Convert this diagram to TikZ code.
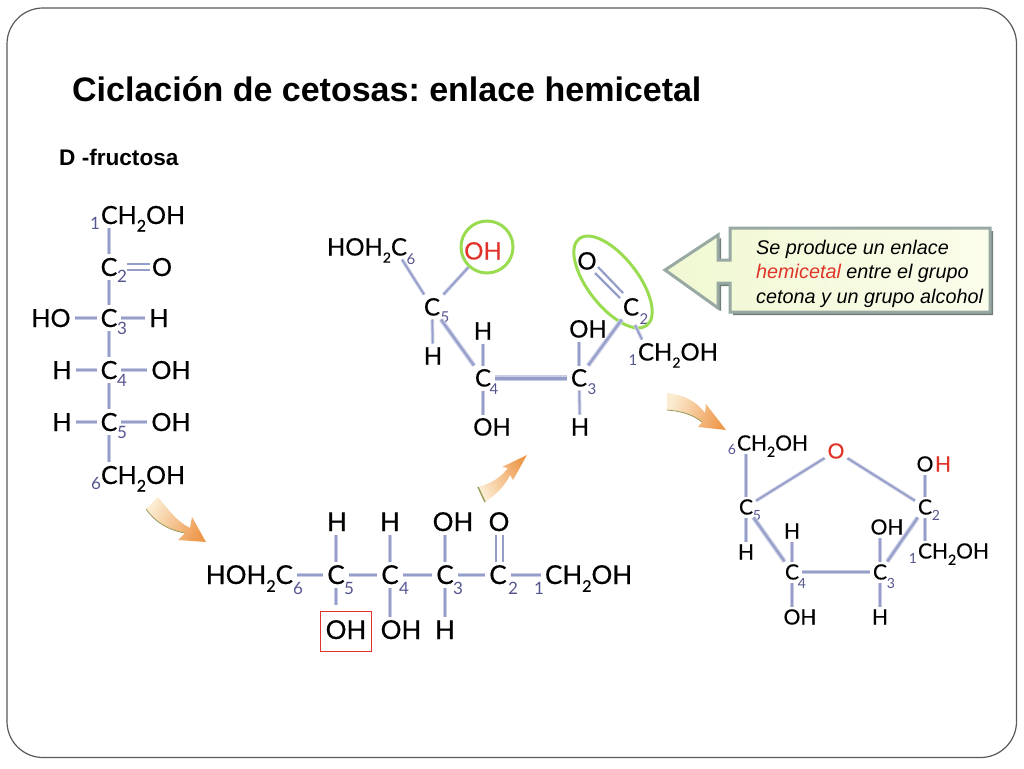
\documentclass[tikz,border=0pt]{standalone}
\usepackage{fontspec}
\setmainfont{Liberation Sans}
\newfontfamily\chemf{Lato}[FakeBold=0.5]
\newfontfamily\numf{Lato}
\usetikzlibrary{shapes.geometric,calc}
\definecolor{bondl}{HTML}{C8CCE5}
\definecolor{bondd}{HTML}{959DC9}
\definecolor{numc}{HTML}{55558F}
\definecolor{greenc}{HTML}{9ADC50}
\definecolor{redt}{HTML}{E0342A}
\definecolor{framec}{HTML}{5A5A5A}
\definecolor{calloutb}{HTML}{98A8A2}
\definecolor{calloutf}{HTML}{F0F8D2}
\definecolor{calloutg}{HTML}{FBFDEB}
\definecolor{arrc}{HTML}{EE9A4E}
\definecolor{arrl}{HTML}{FBEBD0}
\definecolor{olive}{HTML}{9A9A5A}
\tikzset{
  atom/.style={inner sep=0pt,outer sep=4pt,text height=18pt,text depth=0pt,font=\chemf\fontsize{25}{25}\selectfont,text=black},
  atomb/.style={atom,font=\chemf\fontsize{26}{26}\selectfont},
  atomc/.style={atom,text height=17pt,font=\chemf\fontsize{24}{24}\selectfont},
  atoms/.style={atom,outer sep=3pt,text height=15pt,font=\chemf\fontsize{21}{21}\selectfont},
  numl/.style={inner sep=0pt,text=numc,font=\numf\fontsize{17}{17}\selectfont},
  numm/.style={numl,font=\numf\fontsize{15}{15}\selectfont},
  nums/.style={numl,font=\numf\fontsize{14}{14}\selectfont},
  bondt/.style={draw=bondl,line width=3.5pt,postaction={draw=bondd,line width=1.6pt}},
  bondm/.style={draw=bondl,line width=4.5pt,postaction={draw=bondd,line width=2pt}},
  bondk/.style={draw=bondl,line width=6pt,postaction={draw=bondd,line width=3pt}},
  bondd2/.style={draw=bondd,line width=2.2pt},
  orange arrow/.style={left color=arrl,right color=arrc},
  greenring/.style={draw=greenc,line width=3pt,inner sep=0pt,fill=none},
}
\newcommand{\subtwo}[1]{\raisebox{-.3em}{\fontsize{#1}{#1}\selectfont 2}}
\newcommand{\chtwo}{CH\subtwo{16}OH}
\newcommand{\chtwos}{CH\subtwo{14}OH}
\frenchspacing
\begin{document}
\begin{tikzpicture}[x=1pt,y=-1pt]
\useasboundingbox (0,0) rectangle (1024,768);
\fill[white] (0,0) rectangle (1024,768);
\draw[draw=framec,line width=1.2pt,rounded corners=36pt] (7,8) rectangle (1016.5,757.5);
\node[anchor=west,inner sep=0pt,font=\bfseries\fontsize{34}{34}\selectfont] (title) at (72,89) {Ciclación de cetosas: enlace hemicetal};
\node[anchor=west,inner sep=0pt,font=\bfseries\fontsize{22.6}{22.6}\selectfont] (dfru) at (59,157) {D -fructosa};

% --- structure 1
\node[atom,anchor=west] (a1) at (97,215) {\chtwo};
\node[atom] (a2) at (109,267) {C};
\node[atom] (ao) at (162,267) {O};
\node[atom] (a3) at (109,318) {C};
\node[atom] (aho) at (51,318) {HO};
\node[atom] (ah3) at (159,318) {H};
\node[atom] (a4) at (109,370) {C};
\node[atom] (ah4) at (62,370) {H};
\node[atom] (aoh4) at (171,370) {OH};
\node[atom] (a5) at (109,422) {C};
\node[atom] (ah5) at (62,422) {H};
\node[atom] (aoh5) at (171,422) {OH};
\node[atom,anchor=west] (a6) at (97,475) {\chtwo};
\foreach \d/\xx/\yy in {1/95/223,2/122/276,3/122/328,4/122/380,5/122/432,6/96/483} \node[numl] (an\d) at (\xx,\yy) {\d};
\draw[bondt] (a1.south -| a2) -- (a2);
\draw[bondd2] ([yshift=-3pt,xshift=6pt]a2.east) -- ([yshift=-3pt,xshift=2pt]ao.west);
\draw[bondd2] ([yshift=3pt,xshift=6pt]a2.east) -- ([yshift=3pt,xshift=2pt]ao.west);
\draw[bondt] (a2) -- (a3);
\draw[bondt] (aho) -- (a3);
\draw[bondt] (a3) -- (ah3);
\draw[bondt] (a3) -- (a4);
\draw[bondt] (ah4) -- (a4);
\draw[bondt] (a4) -- (aoh4);
\draw[bondt] (a4) -- (a5);
\draw[bondt] (ah5) -- (a5);
\draw[bondt] (a5) -- (aoh5);
\draw[bondt] (a5) -- (a6.north -| a5);

% --- structure 2 (chain)
\node[atomb,anchor=east] (b6) at (297,575) {HOH\subtwo{16}C};
\node[atomb] (b5) at (336,575) {C};
\node[atomb] (b4) at (390,575) {C};
\node[atomb] (b3) at (445,575) {C};
\node[atomb] (b2) at (498,575) {C};
\node[atomb,anchor=west] (b1) at (541,575) {\chtwo};
\node[atomb] (bh5) at (337,522) {H};
\node[atomb] (bh4) at (390,522) {H};
\node[atomb] (boh3) at (453,522) {OH};
\node[atomb] (bo) at (499,522) {O};
\node[atomb] (boh5) at (346,630) {OH};
\node[atomb] (boh4) at (401,630) {OH};
\node[atomb] (bh3) at (445,630) {H};
\foreach \d/\xx in {6/298,5/349,4/404,3/458,2/513,1/539} \node[numl] (bn\d) at (\xx,588) {\d};
\node[draw=redt,line width=.9pt,minimum width=51pt,minimum height=40pt,inner sep=0pt] (box) at (345.5,631) {};
\draw[bondt] (b6) -- (b5);
\draw[bondt] (b5) -- (b4);
\draw[bondt] (b4) -- (b3);
\draw[bondt] (b3) -- (b2);
\draw[bondt] (b2) -- (b1);
\draw[bondt] (bh5.south -| b5) -- (b5);
\draw[bondt] (bh4) -- (b4);
\draw[bondt] (boh3.south -| b3) -- (b3);
\draw[bondd2] ([xshift=-2pt]b2.north) -- ([xshift=-3pt]bo.south);
\draw[bondd2] ([xshift=5pt]b2.north) -- ([xshift=4pt]bo.south);
\draw[bondt] (b5) -- ([yshift=6pt]box.north -| b5);
\draw[bondt] (b4) -- (boh4.north -| b4);
\draw[bondt] (b3) -- (bh3);

% --- structure 3 (bent chain)
\node[atomc,anchor=east] (c6) at (411,247) {HOH\subtwo{14}C};
\node[atomc] (c5) at (432,307) {C};
\node[atomc,text=redt] (cohr) at (483,251) {OH};
\node[atomc] (co) at (587,261) {O};
\node[atomc] (c2) at (631,307) {C};
\node[atomc,anchor=west] (c1) at (634,352) {\chtwos};
\node[atomc] (c3) at (579,378) {C};
\node[atomc] (c4) at (483,378) {C};
\node[atomc] (ch5) at (433,356) {H};
\node[atomc] (ch4) at (483,331) {H};
\node[atomc] (coh4) at (492,427) {OH};
\node[atomc] (coh3) at (588,329) {OH};
\node[atomc] (ch3) at (580,427) {H};
\foreach \d/\xx/\yy in {6/411/259,5/445/317,2/644/319,1/633/360,3/592/389,4/494/389} \node[numm] (cn\d) at (\xx,\yy) {\d};
\node[greenring,circle,minimum size=52pt] (gcirc) at (487,247) {};
\node[greenring,ellipse,rotate=-52,minimum width=110pt,minimum height=50pt] (gell) at (613,282) {};
\draw[bondt] ([xshift=-9pt]c6.south east) -- (c5);
\draw[bondt] (c5) -- (gcirc);
\draw[bondt] (c5) -- (ch5);
\draw[bondm] (c5) -- (c4);
\draw[bondt] (ch4) -- (c4);
\draw[bondt] (c4) -- (coh4.north -| c4);
\draw[bondk] (c4) -- (c3);
\draw[bondt] (coh3.south -| c3) -- (c3);
\draw[bondt] (c3) -- (ch3);
\draw[bondm] (c3) -- (c2);
\draw[bondt] ([shift={(4,18)}]c2.center) -- ([xshift=8pt]c1.north west);
\draw[bondd2] ([shift={(11,6)}]co.center) -- ([shift={(-8,-14)}]c2.center);
\draw[bondd2] ([shift={(8,12)}]co.center) -- ([shift={(-11,-9)}]c2.center);

% --- structure 4 (ring)
\node[atoms,anchor=west] (d6) at (734,443) {\chtwos};
\node[atoms,text=redt] (dor) at (836,451) {O};
\node[atoms] (do) at (925,464) {O};
\node[atoms,text=redt] (dh) at (943,464) {H};
\node[atoms] (d2) at (925,507) {C};
\node[atoms] (d5) at (746,507) {C};
\node[atoms,anchor=west] (d1) at (915,551) {\chtwos};
\node[atoms] (dh5) at (746,552) {H};
\node[atoms] (dh4) at (792,531) {H};
\node[atoms] (d4) at (792,572) {C};
\node[atoms] (d3) at (880,572) {C};
\node[atoms] (doh3) at (887,527) {OH};
\node[atoms] (doh4) at (800,617) {OH};
\node[atoms] (dh3) at (880,617) {H};
\foreach \d/\xx/\yy in {6/732/450,5/757/516,2/936/515,1/913/558,4/802/583,3/891/583} \node[nums] (dn\d) at (\xx,\yy) {\d};
\draw[bondt] (d6.south -| d5) -- (d5);
\draw[bondt] (d5) -- (dor);
\draw[bondt] (dor) -- (d2);
\draw[bondt] (do) -- (d2);
\draw[bondt] (d5) -- (dh5);
\draw[bondm] (d5) -- (d4);
\draw[bondt] (dh4) -- (d4);
\draw[bondt] (d4) -- (doh4.north -| d4);
\draw[bondm] (d4) -- (d3);
\draw[bondt] (doh3.south -| d3) -- (d3);
\draw[bondt] (d3) -- (dh3);
\draw[bondm] (d3) -- (d2);
\draw[bondt] (d2) -- (d1.north -| d2);

% --- callout
\path[fill=calloutb!75!black,draw=none] (668,273) -- (721,238) -- (721,263) -- (733,263) -- (733,231) -- (993,231) -- (993,315) -- (733,315) -- (733,286) -- (721,286) -- (721,311) -- cycle;
\path[draw=calloutb,line width=3pt,left color=calloutf,right color=calloutg] (665,270) -- (718,235) -- (718,260) -- (730,260) -- (730,228) -- (990,228) -- (990,312) -- (730,312) -- (730,283) -- (718,283) -- (718,308) -- cycle;
\node[anchor=north west,inner sep=0pt,align=left,font=\itshape\fontsize{19.8}{24.4}\selectfont] (ctext) at (756,240) {Se produce un enlace\\\textcolor{redt}{hemicetal} entre el grupo\\cetona y un grupo alcohol};

% --- orange arrows
\shade[orange arrow,shading angle=60] (158,497) .. controls (170,512) and (178,522) .. (190,528) -- (192,517) -- (206,542) -- (178,540) -- (185,533) .. controls (168,530) and (155,522) .. (146,509) -- cycle;
\draw[olive,line width=.8pt] (146,509) .. controls (155,522) and (168,530) .. (185,533);
\shade[orange arrow,shading angle=120] (478,487) .. controls (492,483) and (500,478) .. (508,468) -- (502,467) -- (527,455) -- (513,480) -- (510,475) .. controls (504,487) and (496,495) .. (485,502) -- cycle;
\draw[olive,line width=1.4pt] (478,487) -- (485,502);
\shade[orange arrow,shading angle=70] (667,393) .. controls (685,395) and (697,402) .. (705,413) -- (706,404) -- (726,430) -- (698,427) -- (702,422) .. controls (692,414) and (680,411) .. (667,410) -- cycle;
\draw[olive,line width=.8pt] (667,410) .. controls (680,411) and (692,414) .. (702,422);
\end{tikzpicture}
\end{document}
